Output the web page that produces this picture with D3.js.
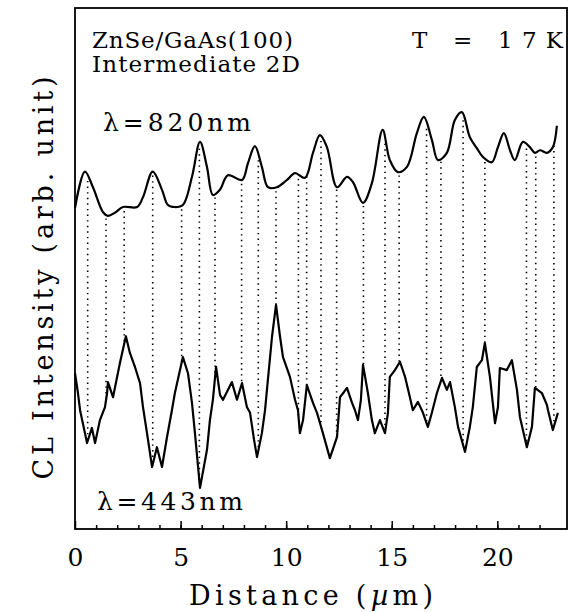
<!DOCTYPE html>
<html>
<head>
<meta charset="utf-8">
<script src="https://cdn.jsdelivr.net/npm/d3@7"></script>
<style>
body { margin: 0; background: #fff; }
text { font-family: "DejaVu Serif", "Liberation Serif", serif; fill: #000; }
</style>
</head>
<body>
<div id="chart"></div>
<script>
// top trace, lambda = 820 nm (distance in um, intensity arb.)
var topX = [0, 0.47, 0.85, 1.33, 1.56, 1.89, 2.27, 2.94, 3.22, 3.68, 4.12, 4.40, 4.73, 5.11, 5.54, 5.92,
  6.25, 6.53, 6.86, 7.24, 7.91, 8.19, 8.52, 8.85, 9.14, 9.56, 10.04, 10.42, 10.89, 11.27, 11.60, 11.93,
  12.41, 12.88, 13.16, 13.64, 14.06, 14.57, 14.91, 15.29, 15.72, 16.19, 16.52, 16.90, 17.19, 17.61, 17.99,
  18.32, 18.70, 19.03, 19.32, 19.74, 20.03, 20.31, 20.60, 20.83, 21.21, 21.54, 21.78, 22.02, 22.35, 22.63, 22.82];
var topY = [61.6, 68.6, 65.6, 60.8, 60.1, 60.7, 61.8, 61.8, 63.7, 68.6, 65.1, 62.2, 61.8, 62.2, 67.6, 74.3,
  69.5, 64.1, 65.1, 67.9, 67.0, 70.2, 73.5, 69.5, 65.6, 65.6, 67.0, 68.3, 67.4, 72.2, 75.6, 73.3,
  65.6, 67.6, 66.6, 62.6, 66.4, 76.6, 70.8, 68.5, 69.5, 76.0, 79.1, 74.7, 70.8, 72.2, 78.5,
  80.0, 75.2, 73.1, 71.4, 70.4, 73.3, 76.0, 72.7, 70.8, 74.3, 73.3, 72.2, 72.7, 72.2, 73.3, 77.4];

// bottom trace, lambda = 443 nm
var botX = [0, 0.14, 0.24, 0.57, 0.80, 0.95, 1.18, 1.42, 1.52, 1.56, 1.80, 2.13, 2.41, 2.60, 2.84, 3.08,
  3.22, 3.41, 3.65, 3.88, 4.12, 4.36, 4.59, 4.73, 5.11, 5.35, 5.54, 5.68, 5.92, 6.25, 6.39, 6.53, 6.68,
  6.87, 7.01, 7.24, 7.43, 7.67, 7.91, 8.14, 8.29, 8.48, 8.62, 8.85, 9.00, 9.09, 9.33, 9.52, 9.71, 9.85,
  10.18, 10.42, 10.56, 10.65, 10.80, 10.98, 11.27, 11.46, 11.74, 12.07, 12.41, 12.55, 12.74, 12.88, 13.12,
  13.26, 13.40, 13.54, 13.64, 13.87, 14.06, 14.20, 14.44, 14.68, 14.82, 14.91, 15.15, 15.39, 15.63, 15.86,
  16.00, 16.24, 16.48, 16.71, 16.90, 17.14, 17.38, 17.61, 17.76, 17.99, 18.14, 18.47, 18.70, 18.84, 19.03,
  19.27, 19.41, 19.65, 19.89, 20.03, 20.12, 20.45, 20.69, 20.93, 21.07, 21.40, 21.64, 21.78, 22.11, 22.35,
  22.40, 22.63, 22.87];
var botY = [29.9, 26.1, 22.8, 16.5, 19.4, 16.5, 20.9, 23.4, 26.1, 28.2, 25.3, 31.9, 37.0, 33.8, 31.1, 28.0,
  23.4, 18.4, 11.9, 15.7, 11.9, 17.7, 22.8, 26.1, 33.0, 29.9, 24.2, 18.4, 7.9, 15.2, 20.9, 24.8, 31.1,
  25.7, 24.8, 26.7, 28.2, 24.8, 28.0, 23.4, 22.3, 17.1, 13.8, 18.4, 22.8, 26.7, 36.9, 43.0, 36.9, 33.0,
  29.2, 24.8, 22.8, 18.4, 20.9, 27.6, 24.2, 22.3, 18.4, 13.6, 17.7, 25.3, 26.3, 27.1, 24.2,
  22.8, 20.9, 24.8, 31.5, 26.1, 20.9, 18.4, 20.9, 18.4, 22.3, 29.2, 30.5, 32.1, 29.2, 25.3,
  22.8, 24.4, 22.3, 19.6, 22.3, 26.1, 29.0, 26.7, 28.2, 23.4, 19.6, 14.8, 19.6, 23.4, 31.1,
  32.4, 35.7, 29.2, 20.3, 23.4, 30.9, 30.5, 32.4, 26.7, 21.5, 15.7, 19.6, 27.1, 26.1, 23.8,
  22.8, 19.0, 22.3];

// positions of the dotted guide lines (um)
var guideX = [0.60, 1.47, 2.33, 3.68, 5.05, 5.89, 6.63, 7.89, 8.68, 9.52, 10.58, 10.97, 11.65, 12.39,
  13.66, 14.68, 15.35, 16.65, 17.33, 18.38, 19.41, 21.38, 21.82, 22.68];

var xTicks = [0, 5, 10, 15, 20];
var xMinor = d3.range(1, 23);

var svgWidth = 569;
var svgHeight = 612;
var margin = {top: 8, right: 2, bottom: 83, left: 75};
var width = svgWidth - margin.left - margin.right;
var height = svgHeight - margin.top - margin.bottom;

var svg = d3.select("#chart")
  .append("svg")
  .attr("width", svgWidth)
  .attr("height", svgHeight);

var chartGroup = svg.append("g")
  .attr("transform", `translate(${margin.left}, ${margin.top})`);

var xScale = d3.scaleLinear().domain([0, 23.3]).range([0, width]);
var yScale = d3.scaleLinear().domain([0, 100]).range([height, 0]);

var topData = topX.map((d, i) => ({x: d, y: topY[i]}));
var botData = botX.map((d, i) => ({x: d, y: botY[i]}));

function valueAt(data, x) {
  var i = d3.bisector(d => d.x).left(data, x);
  if (i <= 0) return data[0].y;
  if (i >= data.length) return data[data.length - 1].y;
  var a = data[i - 1], b = data[i];
  return a.y + (b.y - a.y) * (x - a.x) / (b.x - a.x);
}

// dotted guides between the two traces
chartGroup.selectAll(".guide")
  .data(guideX)
  .enter()
  .append("line")
  .attr("class", "guide")
  .attr("x1", d => xScale(d))
  .attr("x2", d => xScale(d))
  .attr("y1", d => yScale(valueAt(topData, d)) + 4)
  .attr("y2", d => yScale(valueAt(botData, d)))
  .attr("stroke", "#000")
  .attr("stroke-width", 1.6)
  .attr("stroke-dasharray", "1.4,4.2");

var line = d3.line().x(d => xScale(d.x)).y(d => yScale(d.y));

chartGroup.append("path")
  .datum(topData)
  .attr("d", line.curve(d3.curveCatmullRom))
  .attr("fill", "none")
  .attr("stroke", "#000")
  .attr("stroke-width", 2.2);

chartGroup.append("path")
  .datum(botData)
  .attr("d", line.curve(d3.curveLinear))
  .attr("fill", "none")
  .attr("stroke", "#000")
  .attr("stroke-width", 2.2)
  .attr("stroke-linejoin", "round");

// inward ticks on bottom axis
var minorAxis = d3.axisBottom(xScale).tickValues(xMinor).tickSize(-4).tickFormat("");
var majorAxis = d3.axisBottom(xScale).tickValues(xTicks).tickSize(-8).tickPadding(19);

var g1 = chartGroup.append("g").attr("transform", `translate(0, ${height})`).call(minorAxis);
var g2 = chartGroup.append("g").attr("transform", `translate(0, ${height})`).call(majorAxis);
g1.select(".domain").remove();
g2.select(".domain").remove();
chartGroup.selectAll(".tick line").attr("stroke-width", 1.5);
g2.selectAll("text")
  .style("font-family", "'DejaVu Serif', serif")
  .style("font-size", "25px");

// frame
chartGroup.append("rect")
  .attr("width", width)
  .attr("height", height)
  .attr("fill", "none")
  .attr("stroke", "#000")
  .attr("stroke-width", 1.8);

function label(txt, x, y, size, len) {
  return svg.append("text")
    .attr("x", x)
    .attr("y", y)
    .attr("font-size", size)
    .attr("textLength", len)
    .attr("lengthAdjust", "spacing")
    .text(txt);
}

label("ZnSe/GaAs(100)", 92, 48, 23, 201);
label("T = 17K", 412, 48, 23, 151);
label("Intermediate 2D", 92, 72, 23, 208);
label("λ=820nm", 103, 131, 25, 148);
label("λ=443nm", 97, 510, 25, 146);

var xLabel = svg.append("text")
  .attr("x", 189)
  .attr("y", 605)
  .attr("font-size", 27)
  .attr("textLength", 244)
  .attr("lengthAdjust", "spacing");
xLabel.append("tspan").text("Distance (");
xLabel.append("tspan").style("font-style", "italic").text("µ");
xLabel.append("tspan").text("m)");

svg.append("text")
  .attr("transform", "translate(53, 278) rotate(-90)")
  .attr("text-anchor", "middle")
  .attr("font-size", 27)
  .attr("textLength", 403)
  .attr("lengthAdjust", "spacing")
  .text("CL Intensity (arb. unit)");
</script>
</body>
</html>
